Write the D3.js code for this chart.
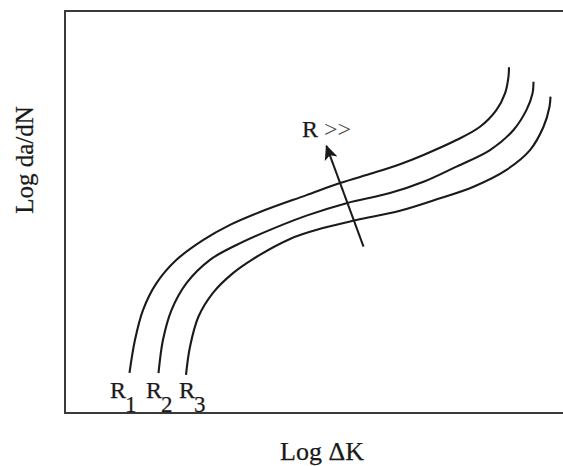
<!DOCTYPE html>
<html>
<head>
<meta charset="utf-8">
<script src="https://cdn.jsdelivr.net/npm/d3@7"></script>
<style>
  html, body { margin: 0; padding: 0; background: #fff; }
  svg { display: block; }
  text { font-family: "Liberation Serif", "Times New Roman", serif; fill: #1a1a1a; stroke: #1a1a1a; stroke-width: 0.25px; }
</style>
</head>
<body>
<svg id="chart" width="563" height="466"></svg>
<script>
// Crack growth rate curves (schematic), in arbitrary log units 0..100
const seriesNames = ["R1", "R2", "R3"];
const logDeltaK_R1 = [12.9, 14.0, 15.6, 18.3, 22.3, 27.6, 33.0, 39.0, 48.3, 55.0, 61.6, 67.0, 71.7, 78.3, 83.0, 86.3, 88.0, 88.7, 88.8];
const logDadN_R1   = [10.0, 18.2, 25.6, 32.3, 38.1, 43.0, 46.8, 50.0, 54.2, 57.2, 59.7, 61.9, 64.2, 67.9, 71.2, 75.4, 79.5, 83.7, 86.0];
const logDeltaK_R2 = [18.7, 19.6, 21.3, 24.3, 29.0, 34.3, 39.0, 48.3, 56.3, 65.0, 71.7, 78.3, 85.0, 89.7, 92.3, 93.5, 93.7];
const logDadN_R2   = [9.9, 18.2, 25.6, 32.3, 38.1, 41.8, 44.5, 49.1, 52.2, 54.7, 57.5, 61.3, 65.4, 70.4, 75.4, 79.5, 82.4];
const logDeltaK_R3 = [24.2, 25.0, 26.7, 29.6, 33.6, 37.6, 45.0, 51.6, 58.3, 67.0, 75.0, 81.7, 88.3, 93.0, 95.7, 96.9, 97.1];
const logDadN_R3   = [9.5, 16.5, 24.0, 29.9, 34.8, 38.3, 43.3, 46.0, 48.0, 50.3, 53.4, 56.3, 60.5, 65.4, 71.2, 76.2, 78.7];

// Trend arrow: increasing stress ratio R
const arrowFrom = [59.7, 41.4];
const arrowTo   = [52.3, 66.4];

const xTitle = "Log \u0394K";
const yTitle = "Log da/dN";
const trendLabel = ["R", ">>"];

const svg = d3.select("#chart");
const plot = { left: 65, right: 565, top: 11, bottom: 413 };

const x = d3.scaleLinear().domain([0, 100]).range([plot.left, plot.right]);
const y = d3.scaleLinear().domain([0, 100]).range([plot.bottom, plot.top]);

// Frame
svg.append("path")
  .attr("d", `M${plot.right + 2},${y(100)} H${x(0)} V${y(0)} H${plot.right + 2}`)
  .attr("fill", "none")
  .attr("stroke", "#3a3a3a")
  .attr("stroke-width", 2);

const series = [
  { name: seriesNames[0], xs: logDeltaK_R1, ys: logDadN_R1 },
  { name: seriesNames[1], xs: logDeltaK_R2, ys: logDadN_R2 },
  { name: seriesNames[2], xs: logDeltaK_R3, ys: logDadN_R3 }
];

const line = d3.line()
  .x(d => x(d[0]))
  .y(d => y(d[1]))
  .curve(d3.curveCatmullRom.alpha(0.5));

svg.selectAll("path.curve")
  .data(series)
  .join("path")
  .attr("class", "curve")
  .attr("d", s => line(s.xs.map((v, i) => [v, s.ys[i]])))
  .attr("fill", "none")
  .attr("stroke", "#1a1a1a")
  .attr("stroke-width", 2.1);

// Series labels under each curve start: R with subscript number
const labelX = [110, 146, 179];
const lbl = svg.selectAll("text.rlabel")
  .data(series)
  .join("text")
  .attr("class", "rlabel")
  .attr("x", (s, i) => labelX[i])
  .attr("y", 398)
  .attr("font-size", 24);
lbl.append("tspan").text(s => s.name[0]);
lbl.append("tspan")
  .attr("font-size", 23)
  .attr("dx", -1)
  .attr("dy", 13.5)
  .text(s => s.name.slice(1));

// Arrow
svg.append("defs").append("marker")
  .attr("id", "head")
  .attr("viewBox", "0 0 10 10")
  .attr("refX", 9).attr("refY", 5)
  .attr("markerWidth", 7.5).attr("markerHeight", 7.5)
  .attr("markerUnits", "strokeWidth")
  .attr("orient", "auto")
  .append("path")
  .attr("d", "M0,0.5 L10,5 L0,9.5 L2.5,5 Z")
  .attr("fill", "#1a1a1a");

svg.append("line")
  .attr("x1", x(arrowFrom[0])).attr("y1", y(arrowFrom[1]))
  .attr("x2", x(arrowTo[0])).attr("y2", y(arrowTo[1]))
  .attr("stroke", "#1a1a1a")
  .attr("stroke-width", 2)
  .attr("marker-end", "url(#head)");

const trend = svg.append("text")
  .attr("x", 302)
  .attr("y", 137)
  .attr("font-size", 24);
trend.append("tspan").text(trendLabel[0]);
trend.append("tspan").attr("dx", 6).attr("fill", "#444").attr("stroke", "none").text(trendLabel[1]);

// Axis titles
svg.append("text")
  .attr("x", 322)
  .attr("y", 460)
  .attr("text-anchor", "middle")
  .attr("font-size", 26)
  .text(xTitle);

svg.append("text")
  .attr("transform", "translate(33,160) rotate(-90)")
  .attr("text-anchor", "middle")
  .attr("font-size", 25)
  .text(yTitle);
</script>
</body>
</html>
